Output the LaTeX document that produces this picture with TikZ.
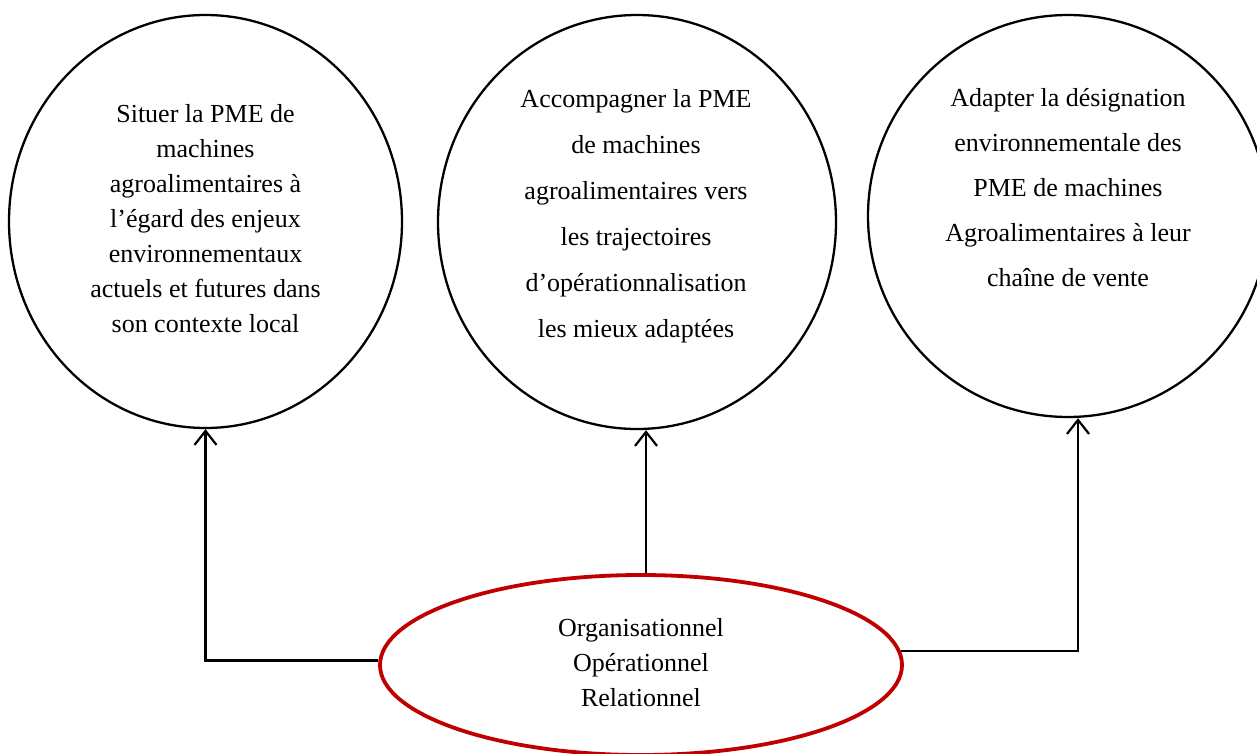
\documentclass[tikz,border=0pt]{standalone}
\usepackage{fontspec}
\setmainfont{Liberation Serif}
\usetikzlibrary{shapes.geometric,arrows.meta}
\definecolor{ellred}{HTML}{C00000}
\tikzset{
  bigcircle/.style={ellipse, draw=black, line width=2.3pt, inner sep=0pt},
  hub/.style={ellipse, draw=ellred, line width=3.8pt, inner sep=0pt, fill=white},
  label/.style={align=center, inner sep=0pt, font=\fontsize{26}{35}\selectfont},
  conn/.style={draw=black, line width=2.2pt, -{Straight Barb[length=14pt,width=22pt]}},
}
\begin{document}
\begin{tikzpicture}[x=1pt,y=-1pt]
\useasboundingbox (0,0) rectangle (1257,754);
\node[bigcircle, minimum width=393pt, minimum height=413pt] (c1) at (205.5,221.5) {};
\node[bigcircle, minimum width=398pt, minimum height=414pt] (c2) at (637,222) {};
\node[bigcircle, minimum width=400pt, minimum height=402pt] (c3) at (1068,216) {};
\node[hub, minimum width=522pt, minimum height=180pt] (e) at (641,665) {};

\node[label] (t1) at (205.5,218.5) {Situer la PME de\\machines\\agroalimentaires à\\l’égard des enjeux\\environnementaux\\actuels et futures dans\\son contexte local};
\node[label, font=\fontsize{26}{46}\selectfont] (t2) at (636,216) {Accompagner la PME\\de machines\\agroalimentaires vers\\les trajectoires\\d’opérationnalisation\\les mieux adaptées};
\node[label, font=\fontsize{26}{45}\selectfont] (t3) at (1068,188) {Adapter la désignation\\environnementale des\\PME de machines\\Agroalimentaires à leur\\chaîne de vente};
\node[label] (t4) at (641,663) {Organisationnel\\Opérationnel\\Relationnel};

\draw[conn] (e.179) -| (c1.south);
\draw[conn] ([xshift=5pt]e.north) -- ([xshift=5pt]e.north |- c2.south);
\draw[conn] (e.3) -| ([xshift=10pt]c3.south);
\end{tikzpicture}
\end{document}
